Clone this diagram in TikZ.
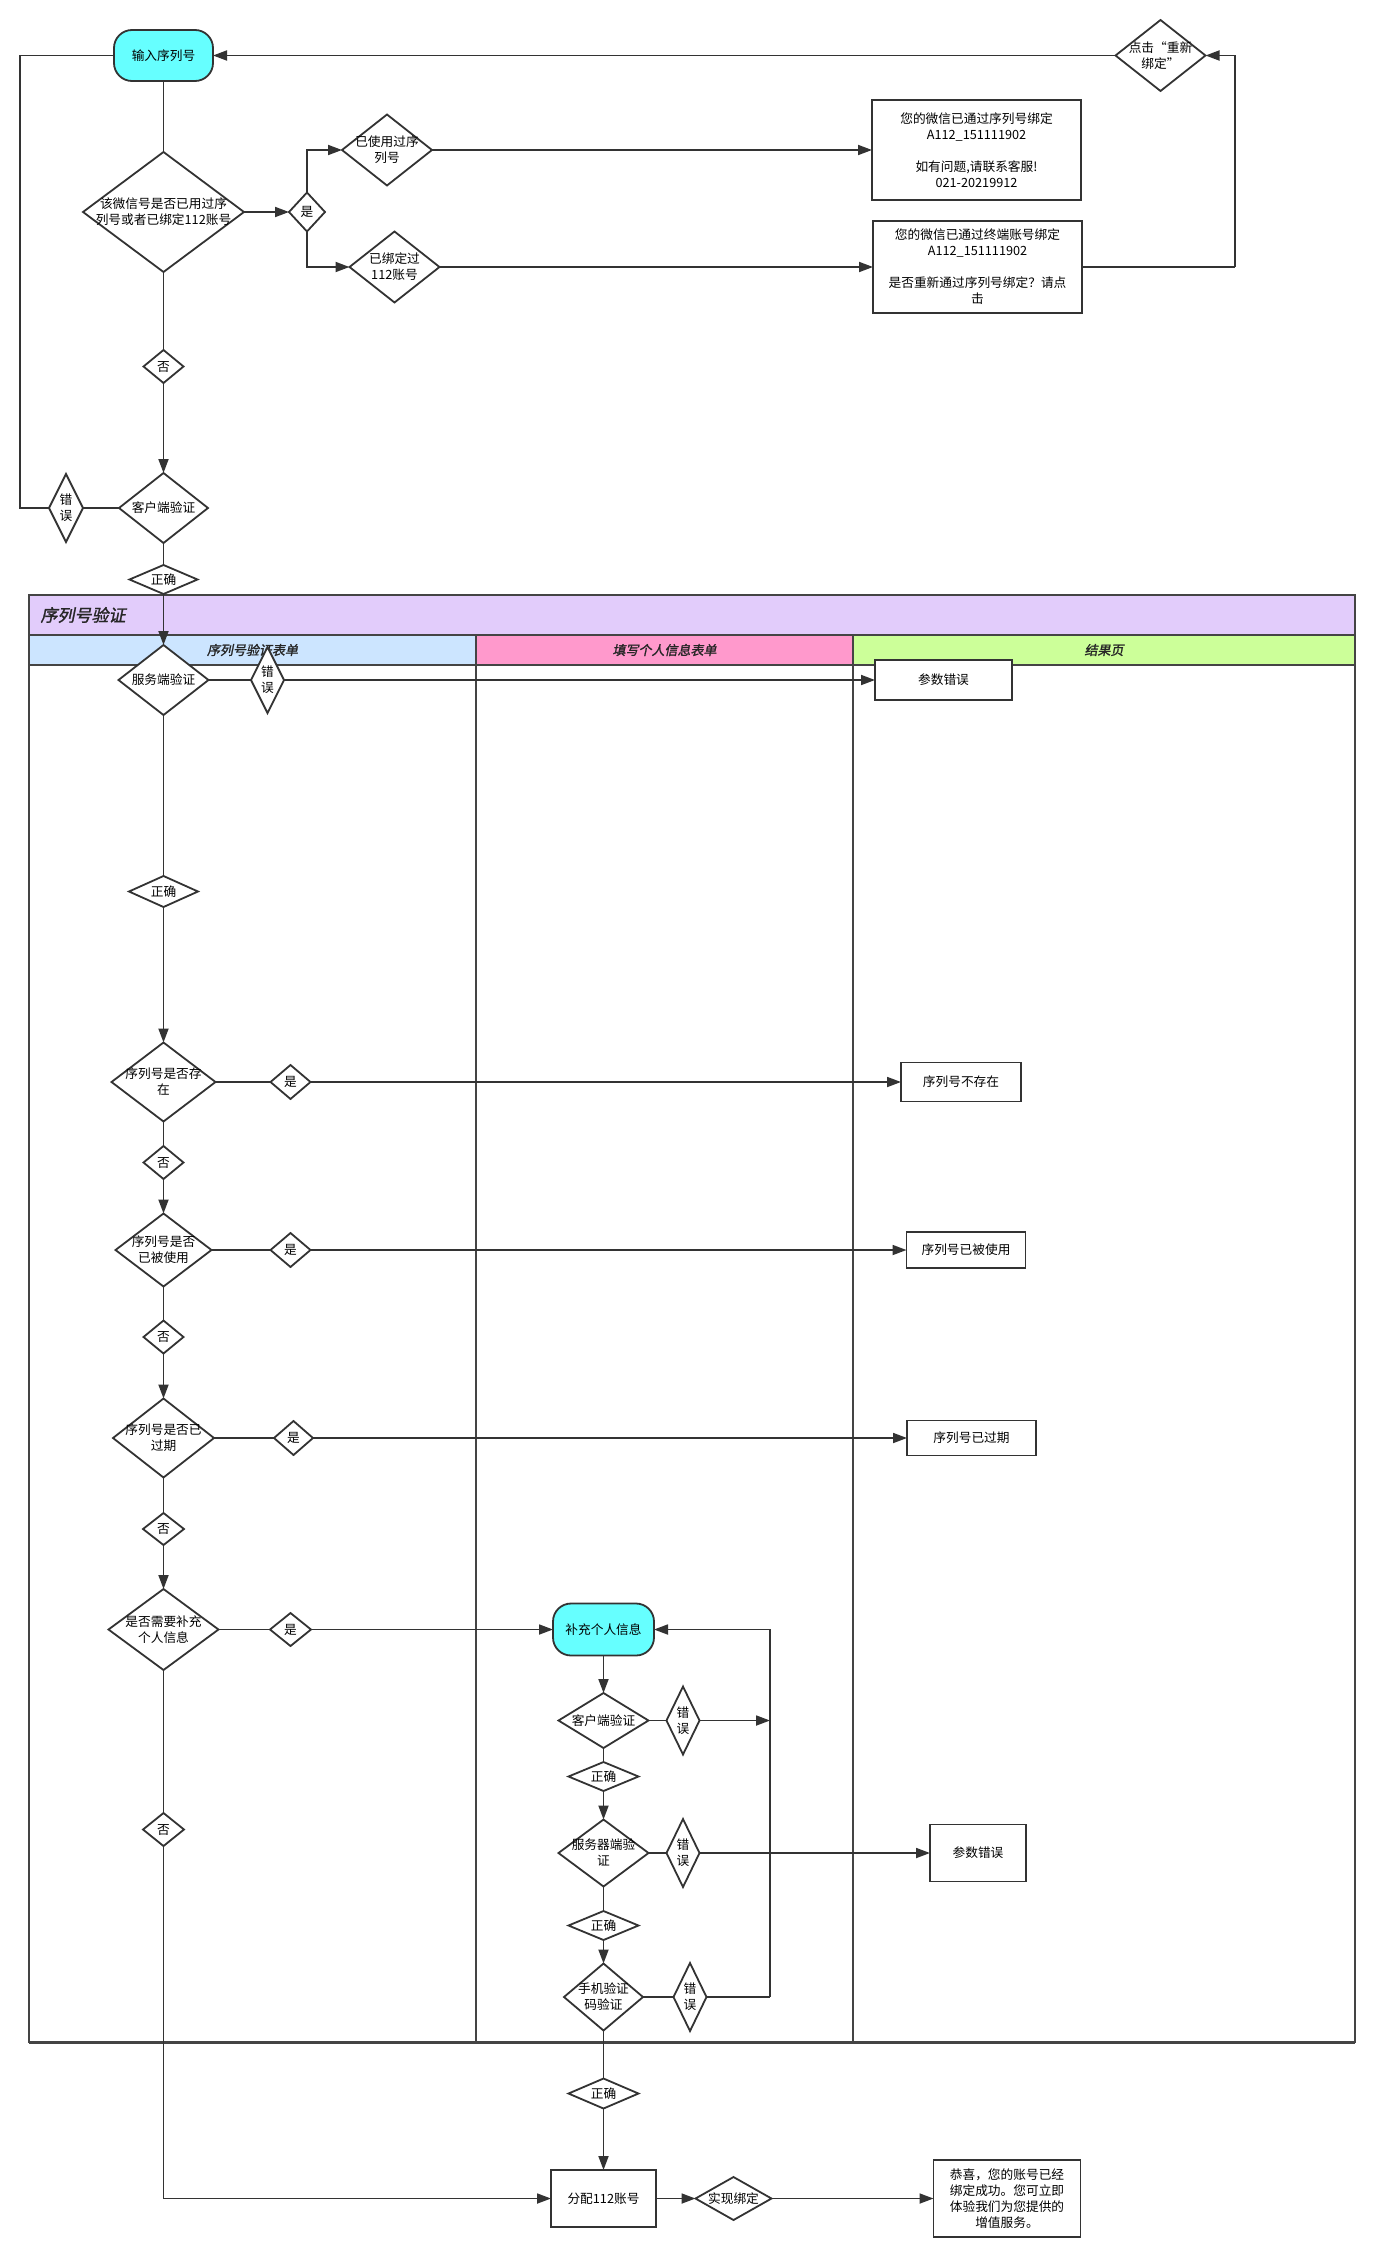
\documentclass[tikz,border=0pt]{standalone}
\usepackage{fontspec}
\setmainfont{Noto Sans CJK SC}
\newfontfamily\hdrfont[FakeSlant=0.2,FakeBold=1.5]{Noto Sans CJK SC}
\usetikzlibrary{shapes.geometric,arrows.meta}
\definecolor{ln}{HTML}{333333}
\definecolor{poolln}{HTML}{444444}
\definecolor{termc}{HTML}{66FFFF}
\definecolor{purp}{HTML}{E2CCFB}
\definecolor{laneA}{HTML}{CCE5FF}
\definecolor{laneB}{HTML}{FF99CC}
\definecolor{laneC}{HTML}{CCFF99}
\newcommand\dtxt[1]{\hbox to 0pt{\hss\raisebox{-4.5pt}[0pt][0pt]{\begin{tabular}{@{}c@{}}#1\end{tabular}}\hss}}
\tikzset{
  base/.style={draw=ln, line width=1.8pt, inner sep=0pt, outer sep=0pt, text=black,
    font=\fontsize{12.7}{16}\selectfont},
  dia/.style 2 args={base, diamond, fill=white, minimum width=#1pt, minimum height=#2pt},
  box/.style 2 args={base, rectangle, fill=white, align=center, minimum width=#1pt, minimum height=#2pt},
  term/.style 2 args={base, rectangle, rounded corners=18pt, fill=termc, minimum width=#1pt, minimum height=#2pt},
  conn/.style={draw=ln, line width=1.8pt},
  arr/.style={conn, -{Triangle[length=14pt,width=10pt]}},
  poolline/.style={draw=poolln, line width=2.2pt},
  lanetitle/.style={font=\hdrfont\fontsize{13}{16}\selectfont, text=black!85},
}
\begin{document}
\begin{tikzpicture}[x=1pt,y=-1pt]
\useasboundingbox (0,0) rectangle (1375,2256);
\fill[white] (0,0) rectangle (1375,2256);

% ---------- swimlane pool ----------
\fill[purp] (29,595) rectangle (1355,635);
\fill[laneA] (29,635) rectangle (476,665);
\fill[laneB] (476,635) rectangle (853,665);
\fill[laneC] (853,635) rectangle (1355,665);
\draw[poolline] (29,595) rectangle (1355,2042);
\draw[poolline] (29,635) -- (1355,635);
\draw[poolline] (29,665) -- (1355,665);
\draw[poolline] (476,635) -- (476,2042);
\draw[poolline] (853,635) -- (853,2042);
\draw[poolline, line width=3pt] (29,2042) -- (1355,2042);
\node[font=\hdrfont\fontsize{17}{20}\selectfont, text=black!85, anchor=west] (pooltitle) at (37,615) {序列号验证};
\node[lanetitle] (laneAt) at (252.5,650) {序列号验证表单};
\node[lanetitle] (laneBt) at (664.5,650) {填写个人信息表单};
\node[lanetitle] (laneCt) at (1104,650) {结果页};

% ---------- top part ----------
\node[term={99}{51}] (inp) at (163.5,55.5) {输入序列号};
\node[dia={161}{120}] (q1) at (163.5,212) {\dtxt{该微信号是否已用过序\\列号或者已绑定112账号}};
\node[dia={36}{39}] (yes0) at (307,212) {\dtxt{是}};
\node[dia={90}{71}] (used) at (387,150) {\dtxt{已使用过序\\列号}};
\node[dia={90}{71}] (bound) at (394.5,267) {\dtxt{已绑定过\\112账号}};
\node[box={209}{100}] (msg1) at (976.5,150) {您的微信已通过序列号绑定\\A112\_151111902\\[16pt]如有问题,请联系客服!\\021-20219912};
\node[box={209}{92}] (msg2) at (977.5,267) {您的微信已通过终端账号绑定\\A112\_151111902\\[16pt]是否重新通过序列号绑定？请点\\击};
\node[dia={90}{71}] (click) at (1160.5,55.5) {\dtxt{点击“重新\\绑定”}};
\node[dia={40}{33}] (no0) at (163.5,366.5) {\dtxt{否}};
\node[dia={89}{70}] (cli) at (163.5,508) {\dtxt{客户端验证}};
\node[dia={34}{68}] (errL) at (66,508) {\dtxt{错\\误}};
\node[dia={68}{29}] (ok0) at (163.5,579.5) {\dtxt{正确}};

\coordinate (ll) at (20,508);
\coordinate (lr) at (1235,267);

\draw[conn] (inp.south) -- (q1.north);
\draw[arr] (q1.east) -- (yes0.west);
\draw[arr] (yes0.north) |- (used.west);
\draw[arr] (yes0.south) |- (bound.west);
\draw[arr] (used.east) -- (msg1.west);
\draw[arr] (bound.east) -- (msg2.west);
\draw[conn] (msg2.east) -- (lr);
\draw[arr] (lr) |- (click.east);
\draw[arr] (click.west) -- (inp.east);
\draw[conn] (q1.south) -- (no0.north);
\draw[arr] (no0.south) -- (cli.north);
\draw[conn] (cli.west) -- (errL.east);
\draw[conn] (errL.west) -- (ll) |- (inp.west);
\draw[conn] (cli.south) -- (ok0.north);

% ---------- lane 1 ----------
\node[dia={90}{70}] (srv) at (163.5,680) {\dtxt{服务端验证}};
\node[dia={33}{66}] (err1) at (267.5,680) {\dtxt{错\\误}};
\node[box={137}{40}] (perr1) at (943.5,680) {参数错误};
\node[dia={69}{31}] (ok1) at (163.5,891.5) {\dtxt{正确}};
\node[dia={104}{79}] (exist) at (163.5,1082) {\dtxt{序列号是否存\\在}};
\node[dia={40}{34}] (yes1) at (290.5,1082) {\dtxt{是}};
\node[box={120}{39}] (r1) at (961,1082) {序列号不存在};
\node[dia={40}{33}] (no1) at (163.5,1162.5) {\dtxt{否}};
\node[dia={96}{73}] (usedq) at (163.5,1250) {\dtxt{序列号是否\\已被使用}};
\node[dia={40}{34}] (yes2) at (290.5,1250) {\dtxt{是}};
\node[box={119}{36}] (r2) at (966,1250) {序列号已被使用};
\node[dia={40}{33}] (no2) at (163.5,1337) {\dtxt{否}};
\node[dia={101}{79}] (exp) at (163.5,1438) {\dtxt{序列号是否已\\过期}};
\node[dia={39}{34}] (yes3) at (293.5,1438) {\dtxt{是}};
\node[box={129}{35}] (r3) at (971.5,1438) {序列号已过期};
\node[dia={41}{32}] (no3) at (163.5,1529) {\dtxt{否}};
\node[dia={110}{81}] (need) at (163.5,1629.5) {\dtxt{是否需要补充\\个人信息}};
\node[dia={41}{33}] (yes4) at (290.5,1629.5) {\dtxt{是}};
\node[dia={41}{33}] (no4) at (163.5,1829.5) {\dtxt{否}};

\draw[arr] (ok0.south) -- (srv.north);
\draw[conn] (srv.east) -- (err1.west);
\draw[arr] (err1.east) -- (perr1.west);
\draw[conn] (srv.south) -- (ok1.north);
\draw[arr] (ok1.south) -- (exist.north);
\draw[conn] (exist.east) -- (yes1.west);
\draw[arr] (yes1.east) -- (r1.west);
\draw[conn] (exist.south) -- (no1.north);
\draw[arr] (no1.south) -- (usedq.north);
\draw[conn] (usedq.east) -- (yes2.west);
\draw[arr] (yes2.east) -- (r2.west);
\draw[conn] (usedq.south) -- (no2.north);
\draw[arr] (no2.south) -- (exp.north);
\draw[conn] (exp.east) -- (yes3.west);
\draw[arr] (yes3.east) -- (r3.west);
\draw[conn] (exp.south) -- (no3.north);
\draw[arr] (no3.south) -- (need.north);
\draw[conn] (need.east) -- (yes4.west);
\draw[conn] (need.south) -- (no4.north);

% ---------- lane 2 ----------
\node[term={101}{52}] (sup) at (603.5,1629.5) {补充个人信息};
\node[dia={90}{55}] (cli2) at (603.5,1720.5) {\dtxt{客户端验证}};
\node[dia={33}{68}] (erra) at (683,1720.5) {\dtxt{错\\误}};
\node[dia={70}{29}] (oka) at (603.5,1776.5) {\dtxt{正确}};
\node[dia={90}{67}] (srv2) at (603.5,1853) {\dtxt{服务器端验\\证}};
\node[dia={33}{68}] (errb) at (683,1853) {\dtxt{错\\误}};
\node[box={96}{57}] (perr2) at (978,1853) {参数错误};
\node[dia={70}{29}] (okb) at (603.5,1925.5) {\dtxt{正确}};
\node[dia={79}{67}] (phone) at (603.5,1997) {\dtxt{手机验证\\码验证}};
\node[dia={33}{68}] (errc) at (690,1997) {\dtxt{错\\误}};
\node[dia={70}{30}] (okc) at (603.5,2093.5) {\dtxt{正确}};

\coordinate (la) at (770,1720.5);
\coordinate (lc) at (770,1997);

\draw[arr] (yes4.east) -- (sup.west);
\draw[arr] (sup.south) -- (cli2.north);
\draw[conn] (cli2.east) -- (erra.west);
\draw[arr] (erra.east) -- (la);
\draw[conn] (cli2.south) -- (oka.north);
\draw[arr] (oka.south) -- (srv2.north);
\draw[conn] (srv2.east) -- (errb.west);
\draw[arr] (errb.east) -- (perr2.west);
\draw[conn] (srv2.south) -- (okb.north);
\draw[arr] (okb.south) -- (phone.north);
\draw[conn] (phone.east) -- (errc.west);
\draw[conn] (errc.east) -- (lc);
\draw[arr] (lc) |- (sup.east);
\draw[conn] (phone.south) -- (okc.north);

% ---------- bottom ----------
\node[box={105}{57}] (alloc) at (603.5,2198.5) {分配112账号};
\node[dia={76}{43}] (bind) at (733.5,2198.5) {\dtxt{实现绑定}};
\node[box={147}{77}] (done) at (1007,2198.5) {恭喜，您的账号已经\\绑定成功。您可立即\\体验我们为您提供的\\增值服务。};

\draw[arr] (okc.south) -- (alloc.north);
\draw[arr] (no4.south) |- (alloc.west);
\draw[arr] (alloc.east) -- (bind.west);
\draw[arr] (bind.east) -- (done.west);
\end{tikzpicture}
\end{document}
